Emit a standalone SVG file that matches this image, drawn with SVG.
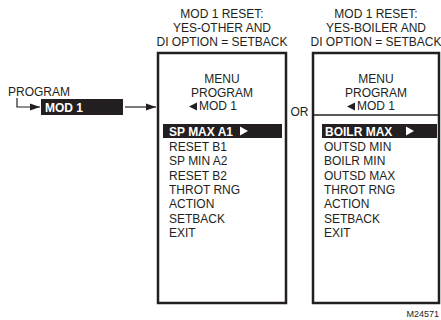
<svg xmlns="http://www.w3.org/2000/svg" width="441" height="320" viewBox="0 0 441 320">
<defs>
<style>
text{font-family:"Liberation Sans",Arial,sans-serif;font-size:12px;fill:#231f20}
.c{text-anchor:middle}
.b{font-weight:bold}
.w{fill:#fff}
.box{fill:#fff;stroke:#231f20;stroke-width:2.5}
.ln{stroke:#231f20;stroke-width:1.2;fill:none}
</style>
<marker id="ah" viewBox="0 0 10 10" refX="10" refY="5" markerWidth="10" markerHeight="10" markerUnits="userSpaceOnUse" orient="auto">
<path d="M0,1.5 L10,5 L0,8.5 Z" fill="#231f20"/>
</marker>
</defs>
<rect width="441" height="320" fill="#fff"/>

<g id="program-label">
<text x="8" y="96">PROGRAM</text>
</g>

<g id="mod1-key">
<rect x="41" y="99" width="82" height="16" fill="#231f20"/>
<text x="45" y="112" class="b w">MOD 1</text>
</g>

<g id="connectors">
<path class="ln" d="M17,98 V107 H40" marker-end="url(#ah)"/>
<path class="ln" d="M125,107 H156" marker-end="url(#ah)"/>
</g>

<g id="header-left">
<text x="222" y="18" class="c">MOD 1 RESET:</text>
<text x="222" y="32" class="c">YES-OTHER AND</text>
<text x="222" y="46" class="c">DI OPTION = SETBACK</text>
</g>

<g id="header-right">
<text x="376" y="18" class="c">MOD 1 RESET:</text>
<text x="376" y="32" class="c">YES-BOILER AND</text>
<text x="376" y="46" class="c">DI OPTION = SETBACK</text>
</g>

<g id="display-left">
<rect class="box" x="158" y="53" width="128" height="250"/>
<text x="222" y="83" class="c">MENU</text>
<text x="222" y="97" class="c">PROGRAM</text>
<path d="M189,106.5 L197,102.5 L197,110.5 Z" fill="#231f20"/>
<text x="199" y="110">MOD 1</text>
<rect x="163" y="124" width="119" height="14" fill="#231f20"/>
<text x="169" y="136" class="b w">SP MAX A1</text>
<path d="M240,126.5 L248,131 L240,135.5 Z" fill="#fff"/>
<text x="169" y="151">RESET B1</text>
<text x="169" y="165">SP MIN A2</text>
<text x="169" y="180">RESET B2</text>
<text x="169" y="194">THROT RNG</text>
<text x="169" y="208">ACTION</text>
<text x="169" y="223">SETBACK</text>
<text x="169" y="237">EXIT</text>
</g>

<g id="or-label">
<text x="299.5" y="116" class="c">OR</text>
</g>

<g id="display-right">
<rect class="box" x="313" y="53" width="126" height="250"/>
<text x="376" y="83" class="c">MENU</text>
<text x="376" y="97" class="c">PROGRAM</text>
<path d="M347,106.5 L355,102.5 L355,110.5 Z" fill="#231f20"/>
<text x="357" y="110">MOD 1</text>
<line x1="313" y1="115" x2="439" y2="115" stroke="#231f20" stroke-width="1.5"/>
<rect x="322" y="124" width="115" height="14" fill="#231f20"/>
<text x="325" y="136" class="b w">BOILR MAX</text>
<path d="M406,126.5 L414,131 L406,135.5 Z" fill="#fff"/>
<text x="324" y="151">OUTSD MIN</text>
<text x="324" y="165">BOILR MIN</text>
<text x="324" y="180">OUTSD MAX</text>
<text x="324" y="194">THROT RNG</text>
<text x="324" y="208">ACTION</text>
<text x="324" y="223">SETBACK</text>
<text x="324" y="237">EXIT</text>
</g>

<g id="figure-id">
<text x="439" y="317" text-anchor="end" style="font-size:9px">M24571</text>
</g>
</svg>
